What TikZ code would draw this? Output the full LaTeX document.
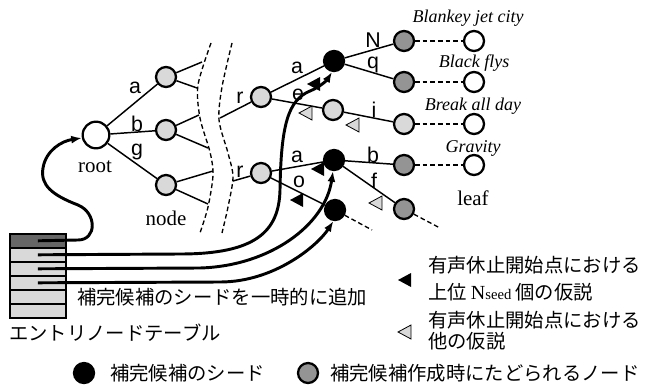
\documentclass[tikz,border=0pt]{standalone}
\usepackage{fontspec}
\setmainfont{Liberation Serif}
\newfontfamily\jpfont{Noto Sans CJK JP}
\newfontfamily\lsfont{Liberation Sans}
\usetikzlibrary{arrows.meta}
\definecolor{lgray}{gray}{0.85}
\definecolor{dgray}{gray}{0.58}
\definecolor{tgray}{gray}{0.4}
\newcommand\mytri[4]{\path[#1,shift={(#2)},rotate=#3,scale=#4] (-7,0) -- (6,-7) -- (6,7) -- cycle;}
\begin{document}
\begin{tikzpicture}[x=0.75pt,y=-0.75pt,
 cn/.style={circle,draw=black,line width=1.7pt,inner sep=0pt,minimum size=15pt},
 lnode/.style={cn,fill=lgray},
 dnode/.style={cn,fill=dgray},
 bnode/.style={cn,fill=black},
 wnode/.style={cn,fill=white},
 edge/.style={line width=1.1pt},
 dsh/.style={line width=1pt,dash pattern=on 3.5pt off 2.2pt},
 curve/.style={line width=2.2pt,-{Latex[length=8pt,width=6pt]}},
 lab/.style={font=\lsfont\fontsize{16}{18}\selectfont,inner sep=0pt},
 itl/.style={font=\itshape\fontsize{13.5}{16}\selectfont,inner sep=0pt},
 rml/.style={font=\fontsize{15.7}{18}\selectfont,inner sep=0pt},
 jp/.style={font=\jpfont\fontsize{14.5}{17}\selectfont,inner sep=0pt},
 btri/.style={fill=black},
 wtri/.style={fill=lgray,draw=black,line width=0.6pt},
 cell/.style={draw=black,line width=1.2pt,fill=lgray,minimum width=42pt,minimum height=10.5pt,inner sep=0pt,anchor=north west}
]
\useasboundingbox (0,0) rectangle (645,385);

% dashed separators
\draw[dsh] plot[smooth] coordinates {(211,43) (198,85) (200,118) (210,152) (213,175) (208,207) (200,233)};
\draw[dsh] plot[smooth] coordinates {(232,43) (222,87) (219,120) (228,153) (233,177) (228,207) (222,233)};

% nodes
\node[wnode,minimum size=20pt] (root) at (96,135) {};
\node[lnode] (na) at (166,77) {};
\node[lnode] (nb) at (166,130) {};
\node[lnode] (ng) at (166,185) {};
\coordinate (p1) at (202,62);
\coordinate (p2) at (197,88);
\coordinate (p3) at (199,115);
\coordinate (p4) at (208,148);
\coordinate (p5) at (213,171);
\coordinate (p6) at (208,204);
\coordinate (s1) at (220,118);
\coordinate (s2) at (233,181);
\node[lnode] (r1) at (261,97) {};
\node[lnode] (r2) at (261,173) {};
\node[bnode] (B1) at (334,61) {};
\node[lnode] (E) at (333,110) {};
\node[lnode] (I) at (404,124) {};
\node[dnode] (N) at (404,41) {};
\node[dnode] (Q) at (404,82) {};
\node[bnode] (B2) at (334,160) {};
\node[dnode] (Bb) at (404,165) {};
\node[dnode] (F) at (404,209) {};
\node[bnode] (B3) at (335,210) {};
\node[wnode] (L1) at (474,41) {};
\node[wnode] (L2) at (474,82) {};
\node[wnode] (L3) at (474,124) {};
\node[wnode] (L4) at (474,165) {};
\coordinate (d1) at (372,230);
\coordinate (d2) at (440,228);

% edges
\draw[edge] (root) -- (na);
\draw[edge] (root) -- (nb);
\draw[edge] (root) -- (ng);
\draw[edge] (na) -- (p1);
\draw[edge] (na) -- (p2);
\draw[edge] (nb) -- (p3);
\draw[edge] (nb) -- (p4);
\draw[edge] (ng) -- (p5);
\draw[edge] (ng) -- (p6);
\draw[edge] (s1) -- (r1);
\draw[edge] (s2) -- (r2);
\draw[edge] (r1) -- (B1);
\draw[edge] (r1) -- (E);
\draw[edge] (E) -- (I);
\draw[edge] (B1) -- (N);
\draw[edge] (B1) -- (Q);
\draw[edge] (r2) -- (B2);
\draw[edge] (r2) -- (B3);
\draw[edge] (B2) -- (Bb);
\draw[edge] (B2) -- (F);
\draw[dsh] (N) -- (L1);
\draw[dsh] (Q) -- (L2);
\draw[dsh] (I) -- (L3);
\draw[dsh] (Bb) -- (L4);
\draw[dsh] (B3) -- (d1);
\draw[dsh] (F) -- (d2);

% edge labels
\node[lab] (la1) at (135,88) {a};
\node[lab] (lb1) at (137,124) {b};
\node[lab] (lg1) at (137,152) {g};
\node[lab] (lr1) at (240,98) {r};
\node[lab] (lr2) at (240,172) {r};
\node[lab] (la2) at (297,68) {a};
\node[lab] (le) at (298,95) {e};
\node[lab] (lN) at (373,40) {N};
\node[lab] (lq) at (373,65) {q};
\node[lab] (li) at (374,110) {i};
\node[lab] (la3) at (297,157) {a};
\node[lab] (lo) at (299,182) {o};
\node[lab] (lb2) at (373,155) {b};
\node[lab] (lf) at (374,181) {f};

% node labels
\node[rml] (troot) at (95,167) {root};
\node[rml] (tnode) at (166,218) {node};
\node[rml] (tleaf) at (473,198) {leaf};
\node[itl] (t1) at (468,18) {Blankey jet city};
\node[itl] (t2) at (474,63) {Black flys};
\node[itl] (t3) at (473,106) {Break all day};
\node[itl] (t4) at (473,148) {Gravity};

% triangles in the tree
\mytri{btri}{314,84}{0}{1}
\mytri{btri}{318,169}{0}{1}
\mytri{btri}{297,200}{0}{1}
\mytri{wtri}{306,113}{0}{1}
\mytri{wtri}{353,125}{0}{1}
\mytri{wtri}{376,203}{0}{1}

% entry node table
\node[cell,fill=tgray] (c1) at (9,233) {};
\node[cell] (c2) at (9,247) {};
\node[cell] (c3) at (9,261) {};
\node[cell] (c4) at (9,275) {};
\node[cell] (c5) at (9,289) {};
\node[cell] (c6) at (9,303) {};

% curves from table
\draw[curve] (c1.center) -- (78,240) .. controls (97,240) and (97,213) .. (78,205) .. controls (52,195) and (40,185) .. (43,168) .. controls (46,150) and (62,141) .. (root.192);
\draw[curve] (c2.center) -- (180,254) .. controls (255,254) and (279,232) .. (280,190) .. controls (281,125) and (288,100) .. (310,91) .. controls (320,87) and (327,80) .. (B1.260);
\draw[curve] (c3.center) -- (200,268) .. controls (270,266) and (325,225) .. (B2.265);
\draw[curve] (c4.center) -- (220,282) .. controls (275,282) and (318,245) .. (B3.262);

% texts
\node[jp,anchor=west] (tadd) at (77,297) {補完候補のシードを一時的に追加};
\node[jp,anchor=west] (ttab) at (9,333) {エントリノードテーブル};

% legend
\mytri{btri}{405,280}{0}{1}
\mytri{wtri}{405,332}{0}{1}
\node[jp,anchor=west] (lg1a) at (428,265) {有声休止開始点における};
\node[jp,anchor=west] (lg1b) at (428,292) {上位\hspace{3pt}{\fontspec{Liberation Serif}\fontsize{15}{17}\selectfont N\fontsize{11}{13}\selectfont seed}\hspace{3pt}個の仮説};
\node[jp,anchor=west] (lg2a) at (428,320) {有声休止開始点における};
\node[jp,anchor=west] (lg2b) at (428,341) {他の仮説};

\node[bnode] (kb) at (84,373) {};
\node[jp,anchor=west] (kbt) at (110,373) {補完候補のシード};
\node[dnode] (kg) at (308,373) {};
\node[jp,anchor=west] (kgt) at (330,373) {補完候補作成時にたどられるノード};
\end{tikzpicture}
\end{document}
